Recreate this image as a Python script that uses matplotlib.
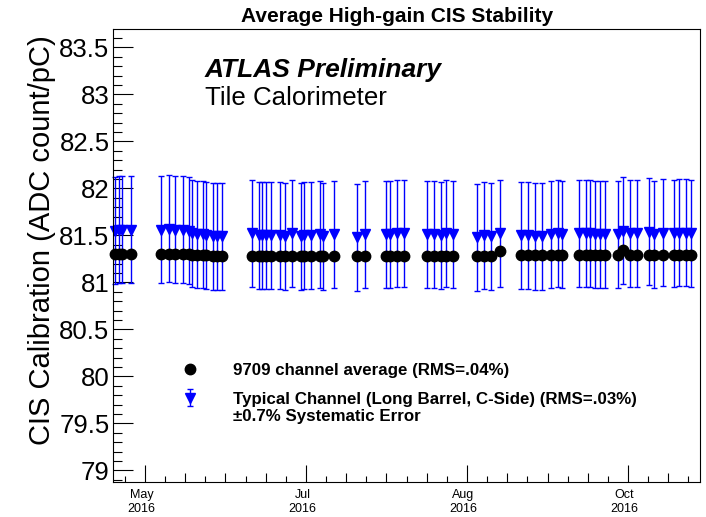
import matplotlib
matplotlib.use('Agg')
import matplotlib.pyplot as plt
import matplotlib.dates as mdates
import matplotlib.ticker as ticker
import matplotlib.transforms as mtransforms
import pandas as pd
import numpy as np

plt.rcParams['font.family'] = ['Liberation Sans', 'DejaVu Sans']

# dates of the CIS calibration runs (2016)
run_dates = [
    '2016-05-07 12:00', '2016-05-08 12:00', '2016-05-09 12:00', '2016-05-12 00:00',
    '2016-05-20 12:00', '2016-05-23 00:00', '2016-05-24 12:00', '2016-05-27 00:00',
    '2016-05-28 12:00', '2016-05-29 12:00', '2016-05-31 00:00', '2016-06-01 12:00',
    '2016-06-02 12:00', '2016-06-04 12:00', '2016-06-05 12:00', '2016-06-07 00:00',
    '2016-06-15 12:00', '2016-06-17 12:00', '2016-06-18 12:00', '2016-06-19 12:00',
    '2016-06-21 00:00', '2016-06-23 12:00', '2016-06-25 00:00', '2016-06-27 00:00',
    '2016-06-29 12:00', '2016-06-30 12:00', '2016-07-02 12:00', '2016-07-05 00:00',
    '2016-07-06 00:00', '2016-07-09 00:00',
    '2016-07-15 12:00', '2016-07-18 00:00',
    '2016-07-24 00:00', '2016-07-25 00:00', '2016-07-27 00:00', '2016-07-29 00:00',
    '2016-08-04 12:00', '2016-08-06 12:00', '2016-08-08 12:00', '2016-08-10 00:00',
    '2016-08-12 00:00',
    '2016-08-19 00:00', '2016-08-21 00:00', '2016-08-23 00:00', '2016-08-25 12:00',
    '2016-08-31 12:00', '2016-09-02 12:00', '2016-09-04 12:00', '2016-09-06 12:00',
    '2016-09-09 00:00', '2016-09-11 00:00', '2016-09-12 00:00',
    '2016-09-17 00:00', '2016-09-19 00:00', '2016-09-20 00:00', '2016-09-21 12:00',
    '2016-09-23 00:00', '2016-09-24 12:00', '2016-09-28 00:00', '2016-09-29 12:00',
    '2016-10-01 12:00', '2016-10-03 12:00',
    '2016-10-07 00:00', '2016-10-08 12:00', '2016-10-11 00:00', '2016-10-14 00:00',
    '2016-10-15 12:00', '2016-10-17 12:00', '2016-10-19 00:00',
]

# typical channel (Long Barrel, C-side), ADC count/pC
typical_channel = [
    81.55, 81.56, 81.56, 81.56,
    81.56, 81.57, 81.56, 81.56, 81.55, 81.52, 81.51, 81.51, 81.50, 81.49, 81.49, 81.49,
    81.52, 81.50, 81.50, 81.50, 81.50, 81.50, 81.49, 81.52, 81.49, 81.50, 81.50, 81.51,
    81.49, 81.51,
    81.48, 81.51,
    81.51, 81.51, 81.52, 81.52,
    81.51, 81.51, 81.50, 81.52, 81.51,
    81.48, 81.50, 81.49, 81.52,
    81.50, 81.50, 81.49, 81.49, 81.51, 81.52, 81.51,
    81.52, 81.52, 81.52, 81.51, 81.51, 81.51, 81.51, 81.55, 81.52, 81.52,
    81.54, 81.51, 81.53, 81.52, 81.53, 81.53, 81.52,
]

# 9709 channel average, ADC count/pC
channel_average = [
    81.30, 81.30, 81.30, 81.30,
    81.30, 81.30, 81.30, 81.30, 81.30, 81.29, 81.29, 81.29, 81.29, 81.28, 81.28, 81.28,
    81.28, 81.28, 81.28, 81.28, 81.28, 81.28, 81.28, 81.28, 81.28, 81.28, 81.28, 81.28,
    81.28, 81.28,
    81.28, 81.28,
    81.28, 81.28, 81.28, 81.28,
    81.28, 81.28, 81.28, 81.28, 81.28,
    81.28, 81.28, 81.28, 81.33,
    81.29, 81.29, 81.29, 81.29, 81.29, 81.29, 81.29,
    81.29, 81.29, 81.29, 81.29, 81.29, 81.29, 81.29, 81.34, 81.29, 81.29,
    81.29, 81.29, 81.29, 81.29, 81.29, 81.29, 81.29,
]

syst_error = 0.007  # +-0.7 %

label_dates = ['2016-05-16', '2016-07-01', '2016-08-16', '2016-10-01']
label_text = ['May\n2016', 'Jul\n2016', 'Aug\n2016', 'Oct\n2016']

dates = pd.to_datetime(run_dates)
typ = np.array(typical_channel)
avg = np.array(channel_average)

W, H = 706, 517
fig = plt.figure(figsize=(W / 100, H / 100), dpi=100)
ax = fig.add_axes([113 / W, 1 - 481.7 / H, 587 / W, 452.7 / H])

eb = ax.errorbar(dates, typ, yerr=typ * syst_error, fmt='v', color='blue', ms=7.5,
                 elinewidth=1, capsize=2.5, capthick=1, clip_on=False, zorder=2)
for a in eb.lines[1] + eb.lines[2]:
    a.set_clip_on(False)
pts, = ax.plot(dates, avg, 'o', color='black', ms=7.5, clip_on=False, zorder=3)

# ROOT-like time axis: big ticks every 46 days, medium ticks every 11.5, small every 5.75
t0 = pd.Timestamp(label_dates[0])
ax.set_xlim(t0 - pd.Timedelta(days=9.14), t0 + pd.Timedelta(days=158.57))
major = [t0 + pd.Timedelta(days=11.5 * k) for k in range(0, 14)]
minor = [t0 + pd.Timedelta(days=5.75 * k) for k in range(-1, 28)]
ax.set_xticks(mdates.date2num(major))
labels = []
for d in major:
    s = d.strftime('%Y-%m-%d')
    labels.append(label_text[label_dates.index(s)] if s in label_dates else '')
ax.set_xticklabels(labels)
ax.set_xticks(mdates.date2num(minor), minor=True)

ax.set_ylim(78.879, 83.695)
ax.yaxis.set_major_locator(ticker.MultipleLocator(0.5))
ax.yaxis.set_minor_locator(ticker.MultipleLocator(0.1))
ax.yaxis.set_major_formatter(ticker.FormatStrFormatter('%g'))

ax.tick_params(which='both', direction='in', top=False, right=False, width=0.8)
ax.tick_params(axis='y', which='major', length=14.4, labelsize=18.5, pad=2.5)
ax.tick_params(axis='y', which='minor', length=6.5)
ax.tick_params(axis='x', which='major', length=6.5, labelsize=9, pad=5)
ax.tick_params(axis='x', which='minor', length=4.3)
for lab, tk in zip(labels, ax.xaxis.get_major_ticks()):
    if lab:
        tk.tick1line.set_markersize(12.2)
offset = mtransforms.ScaledTranslation(-0.035, 0, fig.dpi_scale_trans)
for lab in ax.get_xticklabels():
    lab.set_transform(lab.get_transform() + offset)
    lab.set_linespacing(1.3)
for sp in ax.spines.values():
    sp.set_linewidth(0.8)

fig.text(397.5 / W, 1 - 16.5 / H, 'Average High-gain CIS Stability', fontsize=15,
         fontweight='bold', ha='center', va='center')
fig.text(42 / W, 1 - 240 / H, 'CIS Calibration (ADC count/pC)', fontsize=21,
         rotation=90, ha='center', va='center')
fig.text(205 / W, 1 - 77 / H, 'ATLAS Preliminary', fontsize=19, fontweight='bold',
         fontstyle='italic', ha='left', va='baseline')
fig.text(205 / W, 1 - 105 / H, 'Tile Calorimeter', fontsize=18.6, ha='left', va='baseline')

leg = ax.legend([pts, eb], ['9709 channel average (RMS=.04%)',
                            'Typical Channel (Long Barrel, C-Side) (RMS=.03%)'],
                loc='upper left', bbox_to_anchor=((181.5 - 113) / 587, (481.7 - 363) / 452.7),
                frameon=False, borderpad=0, borderaxespad=0, handlelength=1.0,
                handletextpad=2.05, labelspacing=0.8, prop={'weight': 'bold', 'size': 12.2})
fig.text(233 / W, 1 - 417 / H, '\u00b10.7% Systematic Error', fontsize=12.2,
         fontweight='bold', ha='left', va='center')

fig.savefig('out.png', dpi=100)
